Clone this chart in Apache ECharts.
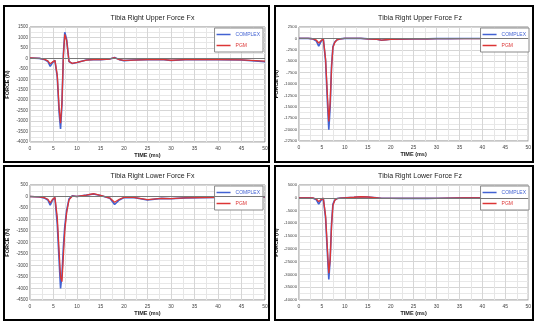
<!DOCTYPE html>
<html>
<head>
<meta charset="utf-8">
<script src="https://cdn.jsdelivr.net/npm/echarts@6/dist/echarts.min.js"></script>
<style>
  html, body { margin: 0; padding: 0; background: #fff; }
  #chart { width: 534px; height: 322px; }
</style>
</head>
<body>
<div id="chart"></div>
<script>
// time samples (ms)
const time = [0, 2, 3, 3.8, 4.3, 4.8, 5.3, 5.8, 6.2, 6.5, 6.8, 7.1, 7.4, 7.8, 8.3, 9, 10, 12, 13.5, 15, 17, 18, 19, 20, 22, 25, 28, 30, 33, 36, 40, 45, 50];

// Tibia Right Upper Force Fx (N)
const upperFxComplex = [20, 0, -50, -150, -380, -200, -100, -900, -2600, -3380, -2200, 200, 1250, 900, -150, -250, -200, -80, -60, -60, -30, 40, -60, -110, -80, -60, -50, -100, -60, -50, -60, -80, -160];
const upperFxPgm     = [20, 0, -40, -120, -260, -170, -100, -800, -2400, -3100, -2100, 100, 1150, 850, -150, -240, -190, -80, -60, -60, -30, 30, -60, -100, -80, -60, -50, -90, -60, -50, -60, -70, -130];

// Tibia Right Upper Force Fz (N)
const upperFzComplex = [0, 0, -100, -600, -1700, -700, -50, -5000, -14000, -20000, -15000, -6000, -1800, -800, -300, -100, 0, 0, 0, -100, -200, -400, -300, -200, -150, -100, -100, -50, -50, -30, -30, -20, -20];
const upperFzPgm     = [0, 0, -80, -400, -1000, -500, -50, -4500, -12500, -18200, -14000, -6500, -2000, -900, -300, -100, 0, 0, 0, -100, -200, -400, -300, -200, -150, -100, -100, -50, -50, -30, -30, -20, -20];

// Tibia Right Lower Force Fx (N)
const lowerFxComplex = [0, -20, -60, -150, -380, -150, -50, -1200, -2800, -4000, -3400, -2200, -1300, -600, -100, 30, 0, 60, 110, 40, -80, -350, -150, -50, -40, -150, -80, -100, -60, -50, -40, -30, -20];
const lowerFxPgm     = [0, -20, -50, -120, -280, -120, -40, -900, -2400, -3500, -3700, -2600, -1500, -700, -150, 20, 0, 60, 120, 50, -70, -250, -120, -40, -40, -140, -80, -90, -60, -50, -40, -30, -20];

// Tibia Right Lower Force Fz (N)
const lowerFzComplex = [0, 0, -100, -800, -2500, -1000, -200, -8000, -22000, -32000, -24000, -10000, -2500, -900, -300, -100, 0, 200, 400, 300, 0, -200, -200, -200, -250, -200, -250, -200, -100, -50, -50, -30, -30];
const lowerFzPgm     = [0, 0, -80, -500, -1500, -700, -150, -7000, -20000, -29500, -24000, -11000, -3000, -1000, -300, -100, 0, 200, 400, 300, 0, -200, -200, -200, -250, -200, -250, -200, -100, -50, -50, -30, -30];

const titles = ['Tibia Right Upper Force Fx', 'Tibia Right Upper Force Fz', 'Tibia Right Lower Force Fx', 'Tibia Right Lower Force Fz'];
const yRanges = [[-4000, 1500, 500], [-22500, 2500, 2500], [-4500, 500, 500], [-40000, 5000, 5000]];
const seriesData = [[upperFxComplex, upperFxPgm], [upperFzComplex, upperFzPgm], [lowerFxComplex, lowerFxPgm], [lowerFzComplex, lowerFzPgm]];

const BLUE = '#4262d2', RED = '#dc3535';
const FONT = 'Liberation Sans';
const NARROW = '"Liberation Sans Narrow", "Liberation Sans", sans-serif';
const grids = [
  { left: 30, top: 27, width: 235, height: 115 },
  { left: 299, top: 27, width: 232, height: 114 },
  { left: 30, top: 185, width: 235, height: 115 },
  { left: 299, top: 185, width: 232, height: 115 }
];
const boxes = [[4, 6, 265, 156], [275, 6, 258, 156], [4, 166, 265, 154], [275, 166, 258, 154]];

const pairs = ys => time.map((t, i) => [t, ys[i]]);

const option = {
  animation: false,
  backgroundColor: '#fff',
  textStyle: { fontFamily: FONT },
  grid: grids.map(g => ({ ...g, show: true, borderColor: '#8c8c8c', borderWidth: 1, backgroundColor: '#fff' })),
  title: grids.map((g, i) => ({
    text: titles[i], left: g.left + g.width / 2, top: g.top - 17, textAlign: 'center',
    textStyle: { fontSize: 7, fontWeight: 'normal', color: '#222', fontFamily: FONT }
  })),
  legend: grids.map((g, i) => ({
    orient: 'vertical', right: 534 - (g.left + g.width) + 2, top: g.top + 1,
    itemWidth: 14, itemHeight: 1.5, itemGap: 6, icon: 'rect',
    padding: [4, 3, 4, 2], backgroundColor: '#fff', borderColor: '#8a8a8a', borderWidth: 1,
    textStyle: { fontSize: 5, fontFamily: NARROW },
    data: [
      { name: 'COMPLEX', textStyle: { color: BLUE } },
      { name: 'PGM', textStyle: { color: RED } }
    ]
  })),
  xAxis: grids.map((g, i) => ({
    type: 'value', gridIndex: i, min: 0, max: 50, interval: 5,
    name: 'TIME (ms)', nameLocation: 'middle', nameGap: 10,
    nameTextStyle: { fontSize: 5.5, fontWeight: 'bold', color: '#222', fontFamily: FONT },
    axisLine: { show: false }, axisTick: { show: false },
    axisLabel: { fontSize: 5, color: '#444', margin: 4, fontFamily: NARROW },
    splitLine: { lineStyle: { color: '#d6d6d6', width: 1 } },
    minorTick: { show: false, splitNumber: 2 },
    minorSplitLine: { show: true, lineStyle: { color: '#e6e6e6', width: 1 } }
  })),
  yAxis: grids.map((g, i) => ({
    type: 'value', gridIndex: i, min: yRanges[i][0], max: yRanges[i][1], interval: yRanges[i][2],
    name: 'FORCE (N)', nameLocation: 'middle', nameGap: 20,
    nameTextStyle: { fontSize: 5.5, fontWeight: 'bold', color: '#222', fontFamily: FONT },
    axisLine: { show: false }, axisTick: { show: false },
    axisLabel: { fontSize: i % 2 ? 4.2 : 4.5, color: '#444', margin: 2, fontFamily: NARROW, formatter: v => String(v) },
    splitLine: { lineStyle: { color: '#d6d6d6', width: 1 } },
    minorTick: { show: false, splitNumber: 2 },
    minorSplitLine: { show: true, lineStyle: { color: '#e8e8e8', width: 1 } }
  })),
  series: seriesData.flatMap((pair, i) => [
    {
      name: 'COMPLEX', type: 'line', xAxisIndex: i, yAxisIndex: i,
      data: pairs(pair[0]), showSymbol: false, symbol: 'none',
      lineStyle: { color: BLUE, width: 1.6 }, itemStyle: { color: BLUE },
      markLine: {
        silent: true, symbol: 'none', label: { show: false },
        lineStyle: { color: '#777', width: 1, type: 'solid' },
        data: [{ yAxis: 0 }]
      }
    },
    {
      name: 'PGM', type: 'line', xAxisIndex: i, yAxisIndex: i,
      data: pairs(pair[1]), showSymbol: false, symbol: 'none',
      lineStyle: { color: RED, width: 1.3 }, itemStyle: { color: RED }
    }
  ]),
  graphic: boxes.map(b => ({
    type: 'rect', silent: true, z: 100,
    shape: { x: b[0], y: b[1], width: b[2], height: b[3] },
    style: { fill: null, stroke: '#000', lineWidth: 2 }
  }))
};

const chart = echarts.init(document.getElementById('chart'));
chart.setOption(option);
</script>
</body>
</html>
